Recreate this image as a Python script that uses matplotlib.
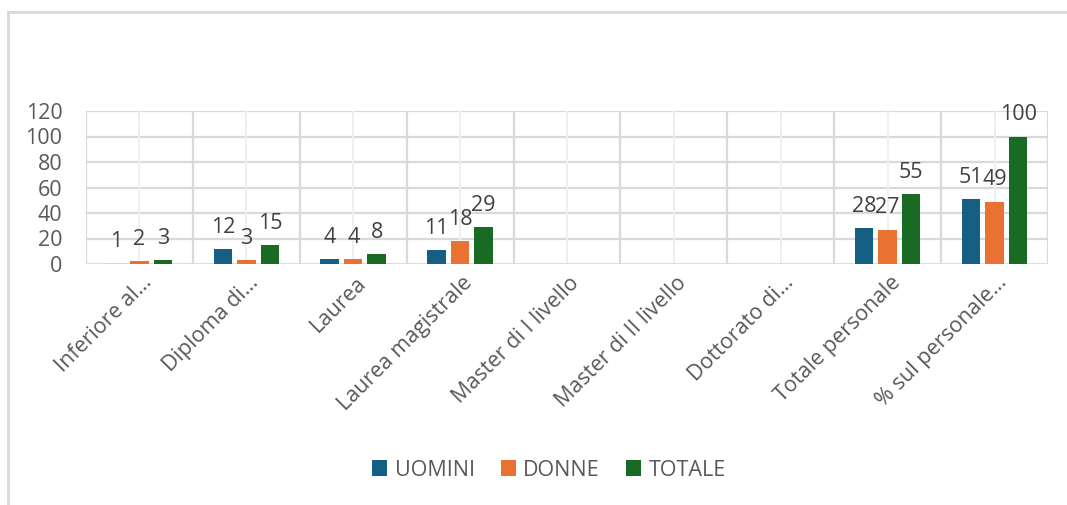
import numpy as np
import matplotlib
matplotlib.use("Agg")
import matplotlib.pyplot as plt
from matplotlib.lines import Line2D
from matplotlib.patches import Patch
import matplotlib.transforms as mtransforms

categories = ["Inferiore al…", "Diploma di…", "Laurea", "Laurea magistrale",
              "Master di I livello", "Master di II livello", "Dottorato di…",
              "Totale personale", "% sul personale…"]
uomini = [1, 12, 4, 11, np.nan, np.nan, np.nan, 28, 51]
donne = [2, 3, 4, 18, np.nan, np.nan, np.nan, 27, 49]
totale = [3, 15, 8, 29, np.nan, np.nan, np.nan, 55, 100]
series_names = ["UOMINI", "DONNE", "TOTALE"]
colors = ["#156082", "#E97132", "#196B24"]
yticks = [0, 20, 40, 60, 80, 100, 120]

plt.rcParams['font.family'] = ['Open Sans', 'DejaVu Sans']

fig = plt.figure(figsize=(10.67, 5.05), dpi=100)
ax = fig.add_axes([86/1067, 1-264/505, (1048-86)/1067, (264-111)/505])

x = np.arange(len(categories))
width = 0.173
step = 0.22
label_color = "#404040"
tick_color = "#595959"
grid_color = "#d9d9d9"
fs = 15.5

for i, (vals, col) in enumerate(zip([uomini, donne, totale], colors)):
    xs = x + (i - 1) * step
    v = np.array(vals, dtype=float)
    bars = ax.bar(xs, np.nan_to_num(v), width, color=col, zorder=3)
    if i == 0:
        bars[0].set_facecolor("#c9d9e6")
    for xi, vi in zip(xs, v):
        if not np.isnan(vi):
            ax.annotate(f"{int(vi)}", (xi, vi), xytext=(0, 8), textcoords="offset points",
                        ha="center", va="bottom", fontsize=fs, color=label_color, zorder=4)

ax.set_xlim(-0.5, len(categories) - 0.5)
ax.set_ylim(0, 120)
ax.set_yticks(yticks)
ax.set_yticklabels([str(t) for t in yticks], fontsize=fs, color=tick_color)
ax.tick_params(axis='y', length=0, pad=17)

# gridlines
for yv in yticks[1:]:
    ax.axhline(yv, color=grid_color, lw=1.6, zorder=1)
for b in np.arange(-0.5, len(categories), 1.0):
    ax.axvline(b, color=grid_color, lw=1.6, zorder=1)
for c in x:
    ax.axvline(c, color="#efefef", lw=1.4, zorder=1)
for s in ax.spines.values():
    s.set_visible(False)
ax.axhline(0, color=grid_color, lw=2.0, zorder=2)

ax.set_xticks(x)
ax.set_xticklabels(categories, rotation=45, ha='right', va='top', rotation_mode='anchor',
                   fontsize=fs, color=tick_color)
ax.tick_params(axis='x', length=0, pad=6)
offset = mtransforms.ScaledTranslation(2/100, 0, fig.dpi_scale_trans)
for lab in ax.get_xticklabels():
    lab.set_transform(lab.get_transform() + offset)

handles = [Patch(facecolor=c, edgecolor='none') for c in colors]
fig.legend(handles, series_names, loc='center', bbox_to_anchor=(549/1067, 1-470/505), ncol=3,
           frameon=False, fontsize=fs, labelcolor=tick_color, handlelength=0.7, handleheight=0.7,
           handletextpad=0.35, columnspacing=1.2)

# chart frame
fig.add_artist(Line2D([8/1067, 8/1067], [0, 1-12/505], color=grid_color, lw=2, transform=fig.transFigure))
fig.add_artist(Line2D([8/1067, 1066/1067], [1-12/505, 1-12/505], color=grid_color, lw=2, transform=fig.transFigure))

fig.savefig("out.png", dpi=100)
